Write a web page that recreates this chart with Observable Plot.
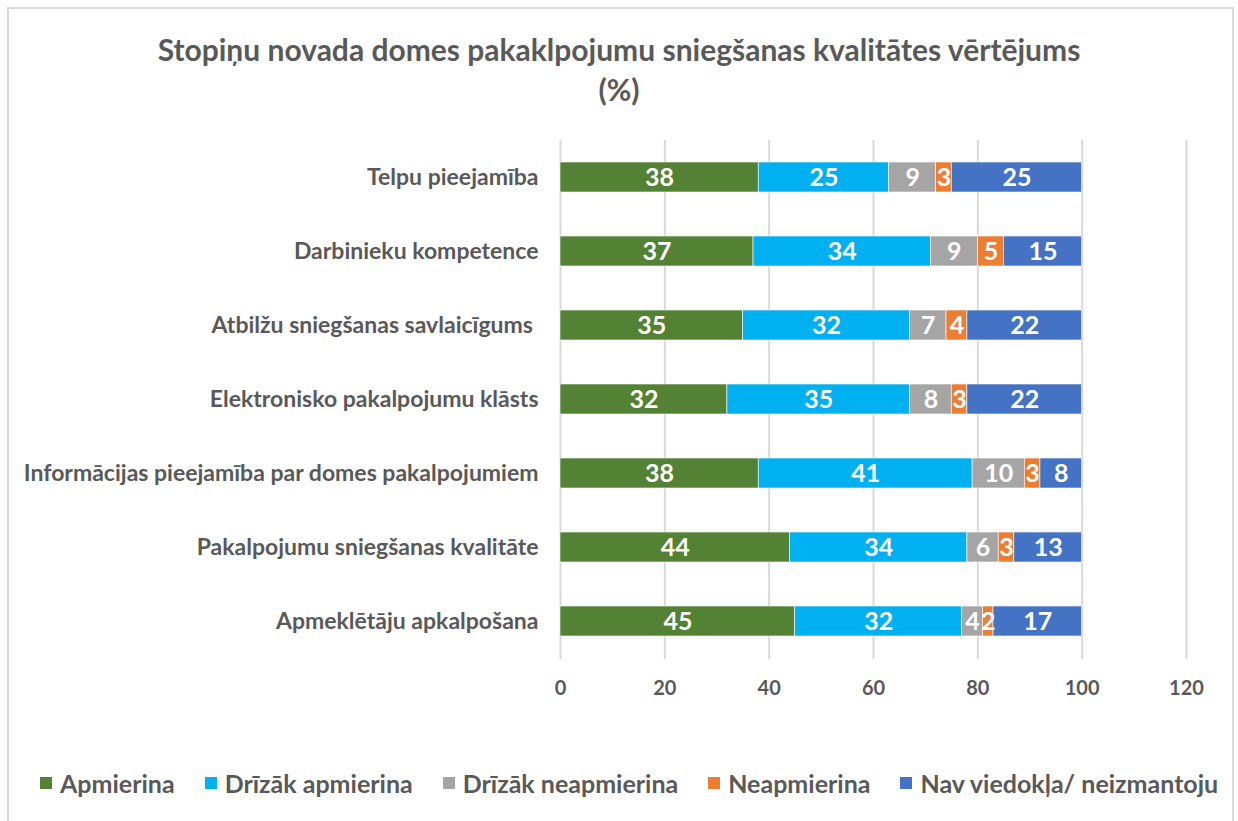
<!DOCTYPE html>
<html>
<head>
<meta charset="utf-8">
<script src="https://cdn.jsdelivr.net/npm/d3@7"></script>
<script src="https://cdn.jsdelivr.net/npm/@observablehq/plot@0.6"></script>
<style>
  html, body { margin: 0; padding: 0; background: #fff; overflow: hidden; }
  #wrap { position: relative; width: 1238px; height: 821px; overflow: hidden; font-family: Lato, "Open Sans", sans-serif; color: #595959; }
  #frame { position: absolute; left: 7px; top: 7px; width: 1227px; height: 830px; border: 2px solid #d9d9d9; box-sizing: border-box; }
  #title { position: absolute; left: 0; top: 29px; width: 1238px; text-align: center; font-weight: 700; font-size: 30px; line-height: 40px; color: #595959; }
  #chart { position: absolute; left: 0; top: 120px; }
  #legend { position: absolute; left: 40px; top: 768px; display: flex; align-items: center; font-weight: 700; font-size: 25px; color: #595959; white-space: nowrap; }
  .item { display: flex; align-items: center; margin-right: 30px; }
  .sw { width: 12px; height: 12px; margin-right: 8px; }
</style>
</head>
<body>
<div id="wrap">
  <div id="frame"></div>
  <div id="title">Stopiņu novada domes pakaklpojumu sniegšanas kvalitātes vērtējums<br>(%)</div>
  <div id="chart"></div>
  <div id="legend"></div>
</div>
<script>
const categories = [
  "Telpu pieejamība",
  "Darbinieku kompetence",
  "Atbilžu sniegšanas savlaicīgums ",
  "Elektronisko pakalpojumu klāsts",
  "Informācijas pieejamība par domes pakalpojumiem",
  "Pakalpojumu sniegšanas kvalitāte",
  "Apmeklētāju apkalpošana"
];
const seriesNames = ["Apmierina", "Drīzāk apmierina", "Drīzāk neapmierina", "Neapmierina", "Nav viedokļa/ neizmantoju"];
const seriesColors = ["#548235", "#00B0F0", "#A5A5A5", "#ED7D31", "#4472C4"];
const apmierina         = [38, 37, 35, 32, 38, 44, 45];
const drizakApmierina   = [25, 34, 32, 35, 41, 34, 32];
const drizakNeapmierina = [9, 9, 7, 8, 10, 6, 4];
const neapmierina       = [3, 5, 4, 3, 3, 3, 2];
const navViedokla       = [25, 15, 22, 22, 8, 13, 17];
const xTicks = [0, 20, 40, 60, 80, 100, 120];

const seriesValues = [apmierina, drizakApmierina, drizakNeapmierina, neapmierina, navViedokla];
const data = [];
categories.forEach((c, i) => {
  seriesNames.forEach((s, j) => {
    data.push({category: c, series: s, value: seriesValues[j][i]});
  });
});

const chart = Plot.plot({
  width: 1238,
  height: 600,
  marginLeft: 560,
  marginRight: 52,
  marginTop: 20,
  marginBottom: 61,
  style: {fontFamily: "Lato, 'Open Sans', sans-serif", color: "#595959", background: "transparent"},
  x: {domain: [0, 120], ticks: xTicks, label: null},
  y: {domain: categories, range: [20, 538], paddingInner: 0.6, paddingOuter: 0.3, label: null},
  color: {domain: seriesNames, range: seriesColors},
  marks: [
    Plot.gridX(xTicks, {stroke: "#d9d9d9", strokeOpacity: 1, strokeWidth: 2}),
    Plot.barX(data, Plot.stackX({x: "value", y: "category", fill: "series", order: null, stroke: "white", strokeWidth: 0.6})),
    Plot.text(data, Plot.stackX({x: "value", y: "category", text: d => String(d.value), order: null, fill: "white", fontWeight: 700, fontSize: 25})),
    Plot.axisX({ticks: xTicks, tickSize: 0, tickPadding: 21, fontSize: 20, fontWeight: 700, fill: "#595959", label: null}),
    Plot.axisY({tickSize: 0, tickPadding: 22, fontSize: 23, fontWeight: 700, fill: "#595959", label: null})
  ]
});
document.getElementById("chart").appendChild(chart);

const legend = document.getElementById("legend");
seriesNames.forEach((s, j) => {
  const it = document.createElement("div");
  it.className = "item";
  const sw = document.createElement("div");
  sw.className = "sw";
  sw.style.background = seriesColors[j];
  const tx = document.createElement("span");
  tx.textContent = s;
  it.appendChild(sw);
  it.appendChild(tx);
  legend.appendChild(it);
});
</script>
</body>
</html>
